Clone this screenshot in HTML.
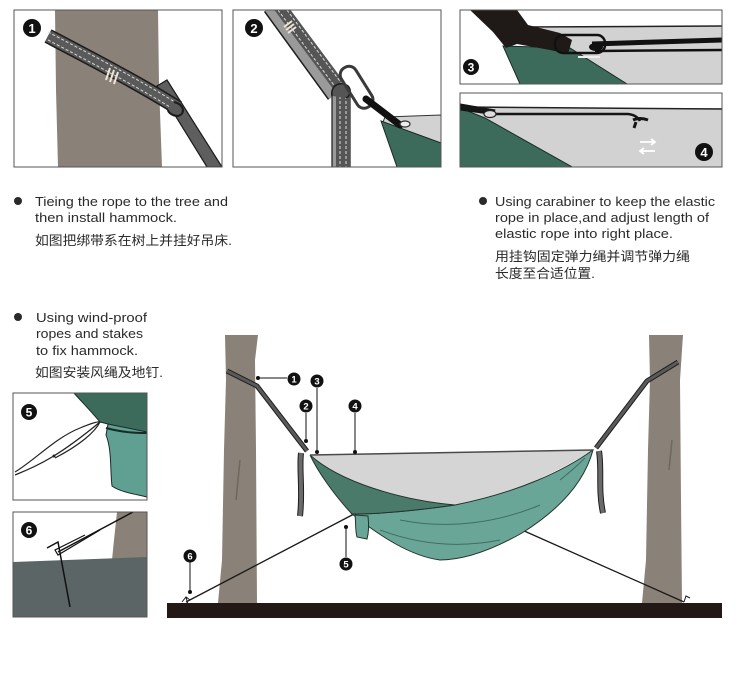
<!DOCTYPE html>
<html><head><meta charset="utf-8"><style>
html,body{margin:0;padding:0;background:#fff;}
svg{display:block;}
text{font-family:"Liberation Sans","Noto Sans CJK SC",sans-serif;}
</style></head><body>
<svg width="743" height="686" viewBox="0 0 743 686" xmlns="http://www.w3.org/2000/svg">
<defs>
<clipPath id="c1"><rect x="14" y="10" width="208" height="157"/></clipPath>
<clipPath id="c2"><rect x="233" y="10" width="208" height="157"/></clipPath>
<clipPath id="c3"><rect x="460" y="10" width="262" height="74"/></clipPath>
<clipPath id="c4"><rect x="460" y="93" width="262" height="74"/></clipPath>
<clipPath id="c5"><rect x="13" y="393" width="134" height="107"/></clipPath>
<clipPath id="c6"><rect x="13" y="512" width="134" height="105"/></clipPath>
</defs>
<rect width="743" height="686" fill="#fff"/>

<!-- Panel 1 -->
<g clip-path="url(#c1)">
<polygon points="55,10 158,10 159,85 162,167 58,167 56,90" fill="#8a8178"/>
<polygon points="157,86 167,80 222,167 207,167" fill="#5e5e5e" stroke="#1a1a1a" stroke-width="1.2"/>
<path d="M48,36 C90,58 140,84 178,108" stroke="#1c1c1c" stroke-width="15" fill="none"/>
<path d="M48,36 C90,58 140,84 178,108" stroke="#5a5a5a" stroke-width="12" fill="none"/>
<path d="M48,32 C90,54 140,80 178,104" stroke="#d8d8d8" stroke-width="1" stroke-dasharray="3,2" fill="none"/>
<path d="M48,40 C90,62 140,88 178,112" stroke="#d8d8d8" stroke-width="1" stroke-dasharray="3,2" fill="none"/>
<path d="M174,102 C184,104 186,114 178,116 C172,116 168,112 168,110" stroke="#1c1c1c" stroke-width="2" fill="#5a5a5a"/>
<g stroke="#eee5d8" stroke-width="2"><line x1="106" y1="80" x2="110" y2="68"/><line x1="110" y1="82" x2="114" y2="70"/><line x1="114" y1="84" x2="118" y2="72"/></g>
</g>
<rect x="14" y="10" width="208" height="157" fill="none" stroke="#555" stroke-width="1"/>
<circle cx="32" cy="28" r="9" fill="#111"/><text x="32" y="33" font-size="13" font-weight="bold" fill="#fff" text-anchor="middle">1</text>

<!-- Panel 2 -->
<g clip-path="url(#c2)">
<polygon points="385,117 441,115 441,143 383,122" fill="#d2d2d2" stroke="#333" stroke-width="1"/>
<polygon points="381,121 441,143 441,167 397,167" fill="#3d6b5b" stroke="#1a2a25" stroke-width="1"/>
<path d="M272,6 L336,94" stroke="#1c1c1c" stroke-width="20" fill="none"/>
<path d="M272,6 L336,94" stroke="#9a9a9a" stroke-width="17" fill="none"/>
<path d="M278,4 L342,90" stroke="#555" stroke-width="13" fill="none"/>
<path d="M275,6 L339,92" stroke="#ddd" stroke-width="1" stroke-dasharray="3,2" fill="none"/>
<path d="M281,2 L345,88" stroke="#ddd" stroke-width="1" stroke-dasharray="3,2" fill="none"/>
<g stroke="#eee5d8" stroke-width="2"><line x1="284" y1="27" x2="292" y2="21"/><line x1="286" y1="30" x2="294" y2="24"/><line x1="288" y1="33" x2="296" y2="27"/></g>
<rect x="332" y="94" width="18" height="78" fill="#9a9a9a" stroke="#1c1c1c" stroke-width="1.2"/>
<rect x="336" y="94" width="14" height="78" fill="#555"/>
<line x1="340" y1="96" x2="340" y2="167" stroke="#ddd" stroke-width="1" stroke-dasharray="3,2"/>
<line x1="346" y1="96" x2="346" y2="167" stroke="#ddd" stroke-width="1" stroke-dasharray="3,2"/>
<path d="M332,96 C330,86 340,80 348,86 C352,90 350,96 346,98" stroke="#1c1c1c" stroke-width="1.5" fill="#555"/>
<rect x="348" y="64" width="17" height="46" rx="8" fill="none" stroke="#3a3a3a" stroke-width="3" transform="rotate(-32 357 87)"/>
<path d="M366,99 L400,125" stroke="#111" stroke-width="7" stroke-linecap="round"/>
<ellipse cx="405" cy="124" rx="5" ry="3" fill="#eee" stroke="#333" stroke-width="1.2"/>
</g>
<rect x="233" y="10" width="208" height="157" fill="none" stroke="#555" stroke-width="1"/>
<circle cx="254" cy="28" r="9" fill="#111"/><text x="254" y="33" font-size="13" font-weight="bold" fill="#fff" text-anchor="middle">2</text>

<!-- Panel 3 -->
<g clip-path="url(#c3)">
<polygon points="527,28 722,26 722,84 627,84 560,45" fill="#d2d2d2"/>
<line x1="527" y1="27" x2="722" y2="26" stroke="#222" stroke-width="1.5"/>
<polygon points="503,46 570,48 627,84 520,84" fill="#3d6b5b" stroke="#1a2a25" stroke-width="1"/>
<polygon points="470,10 517,10 528,25 560,33 572,40 568,54 550,50 517,44 506,48 493,32" fill="#1f1a17"/>
<path d="M592,44 L722,40" stroke="#111" stroke-width="5"/>
<path d="M595,51 L722,50" stroke="#111" stroke-width="2.5"/>
<rect x="555" y="35" width="50" height="18" rx="8" fill="none" stroke="#111" stroke-width="2.5"/>
<path d="M578,57 L600,57" stroke="#eee" stroke-width="2"/>
<ellipse cx="596" cy="47" rx="7" ry="4" fill="#111"/>
</g>
<rect x="460" y="10" width="262" height="74" fill="none" stroke="#555" stroke-width="1"/>
<circle cx="471" cy="67" r="8" fill="#111"/><text x="471" y="71.5" font-size="12" font-weight="bold" fill="#fff" text-anchor="middle">3</text>

<!-- Panel 4 -->
<g clip-path="url(#c4)">
<rect x="460" y="108" width="262" height="60" fill="#d2d2d2"/>
<line x1="460" y1="107" x2="722" y2="109" stroke="#222" stroke-width="1.5"/>
<polygon points="460,108 485,118 574,168 460,168" fill="#3d6b5b" stroke="#1a2a25" stroke-width="1"/>
<path d="M458,109 L495,114 L628,114 Q637,115 640,121" stroke="#151515" stroke-width="2.5" fill="none"/>
<path d="M460,106 L495,112" stroke="#151515" stroke-width="5"/>
<ellipse cx="490" cy="114" rx="6" ry="3.5" fill="#ddd" stroke="#222" stroke-width="1.2"/>
<path d="M633,120 Q640,117 648,120 M636,122 L634,128" stroke="#151515" stroke-width="3" fill="none"/>
<g stroke="#fff" stroke-width="1.8" fill="none">
<line x1="640" y1="142" x2="655" y2="142"/><polyline points="651,139 655,142 651,145"/>
<line x1="640" y1="151" x2="655" y2="151"/><polyline points="644,148 640,151 644,154"/>
</g>
</g>
<rect x="460" y="93" width="262" height="74" fill="none" stroke="#555" stroke-width="1"/>
<circle cx="704" cy="152" r="9" fill="#111"/><text x="704" y="157" font-size="13" font-weight="bold" fill="#fff" text-anchor="middle">4</text>

<!-- Panel 5 -->
<g clip-path="url(#c5)">
<path d="M74,393 L147,393 L147,434 C130,430 112,425 100,422 C90,410 80,400 74,393 Z" fill="#3d6b5b" stroke="#1a2a25" stroke-width="1"/>
<path d="M108,424 L147,432 L147,497 C135,494 120,492 112,486 C110,470 112,450 106,435 Z" fill="#5fa093" stroke="#1a2a25" stroke-width="1"/>
<path d="M106,428 C125,433 138,433 147,433" stroke="#1a2a25" stroke-width="2" fill="none"/>
<path d="M15,475 C40,465 60,455 100,422" stroke="#222" stroke-width="1.3" fill="none"/>
<path d="M15,472 C35,460 55,438 80,428 C90,424 98,421 100,422 C95,432 80,445 55,458" stroke="#222" stroke-width="1.2" fill="none"/>
<circle cx="54" cy="456" r="1.5" fill="#222"/>
</g>
<rect x="13" y="393" width="134" height="107" fill="none" stroke="#555" stroke-width="1"/>
<circle cx="29" cy="412" r="8" fill="#111"/><text x="29" y="416.5" font-size="12" font-weight="bold" fill="#fff" text-anchor="middle">5</text>

<!-- Panel 6 -->
<g clip-path="url(#c6)">
<polygon points="117,512 147,512 147,558 112,560 114,540" fill="#8a8178"/>
<polygon points="13,562 147,557 147,617 13,617" fill="#5b6566"/>
<path d="M133,512 L58,552" stroke="#111" stroke-width="1.5"/>
<path d="M100,530 L58,555 L55,550 L85,535" stroke="#111" stroke-width="1.2" fill="none"/>
<path d="M47,548 L58,542 L70,607" stroke="#111" stroke-width="1.5" fill="none"/>
</g>
<rect x="13" y="512" width="134" height="105" fill="none" stroke="#555" stroke-width="1"/>
<circle cx="29" cy="530" r="8" fill="#111"/><text x="29" y="534.5" font-size="12" font-weight="bold" fill="#fff" text-anchor="middle">6</text>

<!-- Main scene -->
<polygon points="225,335 258,335 255,360 256,450 257,603 218,603 222,560 224,450 226,380" fill="#8a8178"/>
<polygon points="649,335 683,335 680,380 681,500 682,603 642,603 646,560 648,450 650,380" fill="#8a8178"/>
<path d="M240,460 L236,500 M672,440 L669,470" stroke="#6f6760" stroke-width="1.5"/>

<rect x="167" y="603" width="555" height="15" fill="#231815"/>

<!-- guy lines -->
<path d="M354,514 L186,602" stroke="#1a1a1a" stroke-width="1.3"/>
<path d="M522,530 L684,602" stroke="#1a1a1a" stroke-width="1.3"/>
<path d="M182,602 L186,597 L190,600 M186,597 L188,605" stroke="#1a1a1a" stroke-width="1" fill="none"/>
<path d="M684,602 L686,596 L690,598" stroke="#1a1a1a" stroke-width="1" fill="none"/>

<!-- straps -->
<path d="M227,371 L257,386 L307,451" stroke="#1e1e1e" stroke-width="5" fill="none" stroke-linejoin="round"/>
<path d="M227,371 L257,386 L307,451" stroke="#5a5a5a" stroke-width="3" fill="none" stroke-linejoin="round"/>
<path d="M301,453 C299,470 303,490 300,516" stroke="#1e1e1e" stroke-width="6" fill="none"/>
<path d="M301,453 C299,470 303,490 300,516" stroke="#6a6a6a" stroke-width="4" fill="none"/>
<path d="M678,362 L647,381 L596,448" stroke="#1e1e1e" stroke-width="5" fill="none" stroke-linejoin="round"/>
<path d="M678,362 L647,381 L596,448" stroke="#5a5a5a" stroke-width="3" fill="none" stroke-linejoin="round"/>
<path d="M599,451 C602,470 598,490 603,513" stroke="#1e1e1e" stroke-width="6" fill="none"/>
<path d="M599,451 C602,470 598,490 603,513" stroke="#6a6a6a" stroke-width="4" fill="none"/>

<!-- hammock -->
<path d="M310,455 L593,450 C560,470 520,492 455,505 C400,500 340,482 310,455 Z" fill="#d5d5d5"/>
<path d="M455,505 C520,492 565,470 593,450 C585,480 562,508 522,533 C492,550 465,560 440,560 C410,556 380,536 352,514 C380,514 420,510 455,505 Z" fill="#6aa697" stroke="#24332e" stroke-width="1"/>
<path d="M310,455 C340,482 400,500 455,505 C420,510 385,514 352,514 C335,496 318,472 310,455 Z" fill="#4a7b6a" stroke="#24332e" stroke-width="1"/>
<path d="M380,530 C420,545 460,548 500,540 M400,520 C450,530 500,522 540,505 M560,480 C570,472 578,465 585,458" stroke="#3f6d60" stroke-width="1" fill="none"/>
<path d="M355,515 L368,516 C369,525 369,532 367,539 L357,537 C355,530 356,522 355,515 Z" fill="#6aa697" stroke="#24332e" stroke-width="1"/>
<line x1="310" y1="455" x2="593" y2="450" stroke="#4a4a4a" stroke-width="1.5"/>

<!-- labels -->
<g fill="#111" stroke="#111">
<line x1="258" y1="378" x2="287" y2="378" stroke-width="1"/><circle cx="258" cy="378" r="1.5"/>
<line x1="317" y1="388" x2="317" y2="452" stroke-width="1"/><circle cx="317" cy="452" r="1.5"/>
<line x1="306" y1="413" x2="306" y2="441" stroke-width="1"/><circle cx="306" cy="441" r="1.5"/>
<line x1="355" y1="413" x2="355" y2="452" stroke-width="1"/><circle cx="355" cy="452" r="1.5"/>
<line x1="346" y1="527" x2="346" y2="557" stroke-width="1"/><circle cx="346" cy="527" r="1.5"/>
<line x1="190" y1="562" x2="190" y2="592" stroke-width="1"/><circle cx="190" cy="592" r="1.5"/>
</g>
<g fill="#111">
<circle cx="294" cy="379" r="6.5"/><circle cx="317" cy="381" r="6.5"/><circle cx="306" cy="406" r="6.5"/>
<circle cx="355" cy="406" r="6.5"/><circle cx="346" cy="564" r="6.5"/><circle cx="190" cy="556" r="6.5"/>
</g>
<g fill="#fff" font-size="9.5" font-weight="bold" text-anchor="middle">
<text x="294" y="382.5">1</text><text x="317" y="384.5">3</text><text x="306" y="409.5">2</text>
<text x="355" y="409.5">4</text><text x="346" y="567.5">5</text><text x="190" y="559.5">6</text>
</g>

<!-- text -->
<g fill="#2a2a2a">
<circle cx="18" cy="201" r="4"/><circle cx="18" cy="317" r="4"/><circle cx="483" cy="201" r="4"/>
</g>
<g fill="#2a2a2a" font-size="13">
<text x="35" y="206" textLength="193" lengthAdjust="spacingAndGlyphs">Tieing the rope to the tree and</text>
<text x="35" y="222" textLength="142" lengthAdjust="spacingAndGlyphs">then install hammock.</text>
<text x="35" y="245" textLength="197" lengthAdjust="spacingAndGlyphs">如图把绑带系在树上并挂好吊床.</text>
<text x="36" y="322" textLength="111" lengthAdjust="spacingAndGlyphs">Using wind-proof</text>
<text x="36" y="338" textLength="107" lengthAdjust="spacingAndGlyphs">ropes and stakes</text>
<text x="36" y="355" textLength="102" lengthAdjust="spacingAndGlyphs">to fix hammock.</text>
<text x="35" y="377" textLength="128" lengthAdjust="spacingAndGlyphs">如图安装风绳及地钉.</text>
<text x="495" y="206" textLength="220" lengthAdjust="spacingAndGlyphs">Using carabiner to keep the elastic</text>
<text x="495" y="222" textLength="214" lengthAdjust="spacingAndGlyphs">rope in place,and adjust length of</text>
<text x="495" y="238" textLength="178" lengthAdjust="spacingAndGlyphs">elastic rope into right place.</text>
<text x="495" y="261" textLength="195" lengthAdjust="spacingAndGlyphs">用挂钩固定弹力绳并调节弹力绳</text>
<text x="495" y="278" textLength="100" lengthAdjust="spacingAndGlyphs">长度至合适位置.</text>
</g>
</svg>
</body></html>
